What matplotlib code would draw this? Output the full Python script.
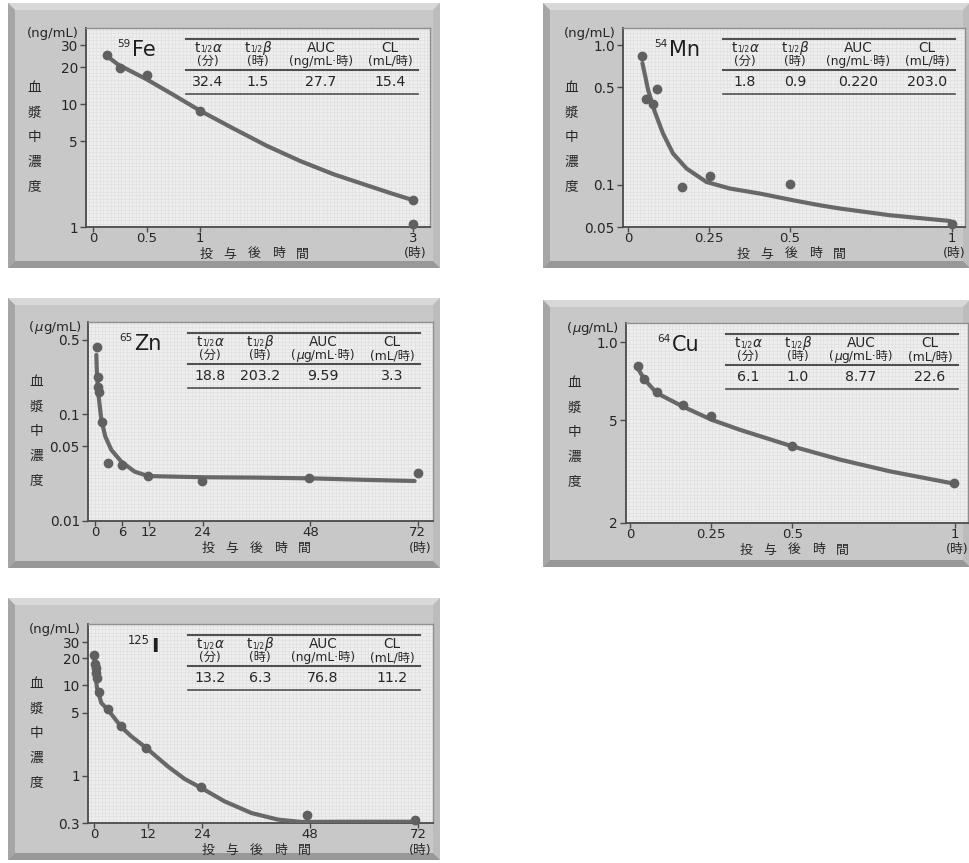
import numpy as np
import matplotlib
matplotlib.use('Agg')
import matplotlib.pyplot as plt
from matplotlib.patches import Rectangle, Polygon
from matplotlib.lines import Line2D
from matplotlib.collections import LineCollection
from matplotlib.ticker import NullLocator

plt.rcParams['font.family'] = ['DejaVu Sans', 'Noto Sans CJK JP']

# ---------------- data ----------------
# 59Fe
fe_time = [0.125, 0.25, 0.5, 1.0, 3.0, 3.0]
fe_conc = [25.2, 19.6, 17.4, 8.8, 1.67, 1.05]
fe_fit_time = [0.125, 0.234, 0.5, 0.75, 1.0, 1.31, 1.625, 1.94, 2.25, 2.56, 2.8, 3.0]
fe_fit_conc = [24.7, 20.9, 15.9, 11.9, 8.84, 6.35, 4.58, 3.44, 2.69, 2.19, 1.87, 1.65]
fe_xticks = [0, 0.5, 1, 3]
fe_xticklabels = ['0', '0.5', '1', '3']
fe_yticks = [1, 5, 10, 20, 30]
fe_yticklabels = ['1', '5', '10', '20', '30']
fe_params = ['32.4', '1.5', '27.7', '15.4']

# 54Mn
mn_time = [0.0445, 0.0547, 0.0773, 0.0907, 0.168, 0.2526, 0.5, 1.0]
mn_conc = [0.833, 0.411, 0.381, 0.486, 0.0959, 0.116, 0.1023, 0.0523]
mn_fit_time = [0.0445, 0.062, 0.0825, 0.108, 0.139, 0.181, 0.2425, 0.3145, 0.407,
               0.51, 0.593, 0.655, 0.809, 0.995]
mn_fit_conc = [0.747, 0.480, 0.335, 0.234, 0.168, 0.131, 0.105, 0.0943, 0.0868,
               0.0777, 0.0715, 0.0678, 0.0607, 0.0552]
mn_xticks = [0, 0.25, 0.5, 1]
mn_xticklabels = ['0', '0.25', '0.5', '1']
mn_yticks = [0.05, 0.1, 0.5, 1.0]
mn_yticklabels = ['0.05', '0.1', '0.5', '1.0']
mn_params = ['1.8', '0.9', '0.220', '203.0']

# 65Zn
zn_time = [0.33, 0.6, 0.62, 0.89, 1.49, 2.83, 5.96, 11.76, 23.9, 47.7, 72.0]
zn_conc = [0.427, 0.223, 0.182, 0.1625, 0.0838, 0.0352, 0.0335, 0.0264, 0.0239, 0.0253, 0.0284]
zn_fit_time = [0.22, 0.37, 0.74, 1.34, 2.23, 3.57, 5.8, 8.78, 11.76, 18.45, 24.4, 36.0,
               48.0, 60.5, 71.3]
zn_fit_conc = [0.361, 0.226, 0.147, 0.0887, 0.0618, 0.0464, 0.036, 0.029, 0.0264, 0.026,
               0.0257, 0.0255, 0.0251, 0.0243, 0.0237]
zn_xticks = [0, 6, 12, 24, 48, 72]
zn_xticklabels = ['0', '6', '12', '24', '48', '72']
zn_yticks = [0.01, 0.05, 0.1, 0.5]
zn_yticklabels = ['0.01', '0.05', '0.1', '0.5']
zn_params = ['18.8', '203.2', '9.59', '3.3']

# 64Cu
cu_time = [0.0236, 0.043, 0.082, 0.162, 0.251, 0.4995, 0.998]
cu_conc = [8.07, 7.24, 6.41, 5.74, 5.17, 3.98, 2.86]
cu_fit_time = [0.0236, 0.043, 0.082, 0.162, 0.251, 0.338, 0.4995, 0.646, 0.800, 0.998]
cu_fit_conc = [7.96, 7.22, 6.37, 5.65, 5.02, 4.59, 3.96, 3.52, 3.17, 2.84]
cu_xticks = [0, 0.25, 0.5, 1]
cu_xticklabels = ['0', '0.25', '0.5', '1']
cu_yticks = [2, 5, 10]
cu_yticklabels = ['2', '5', '1.0']
cu_params = ['6.1', '1.0', '8.77', '22.6']

# 125I
i_time = [0.05, 0.3, 0.52, 0.55, 0.66, 1.04, 3.1, 6.07, 11.63, 23.85, 47.4, 71.3]
i_conc = [21.9, 17.4, 15.6, 13.7, 12.1, 8.47, 5.48, 3.52, 2.03, 0.751, 0.371, 0.327]
i_fit_time = [0.05, 0.3, 0.66, 1.63, 3.1, 6.07, 8.3, 11.63, 16.4, 20.15, 23.85, 29.0,
              34.96, 40.9, 46.1, 55.0, 71.5]
i_fit_conc = [21.4, 13.7, 9.38, 6.40, 5.39, 3.47, 2.73, 2.03, 1.27, 0.921, 0.732, 0.521,
              0.387, 0.327, 0.308, 0.31, 0.31]
i_xticks = [0, 12, 24, 48, 72]
i_xticklabels = ['0', '12', '24', '48', '72']
i_yticks = [0.3, 1, 5, 10, 20, 30]
i_yticklabels = ['0.3', '1', '5', '10', '20', '30']
i_params = ['13.2', '6.3', '76.8', '11.2']

header_top = ['t', 't', 'AUC', 'CL']
header_greek = ['α', 'β', '', '']
ylabel_chars = ['血', '漿', '中', '濃', '度']
xlabel_chars = ['投', '与', '後', '時', '間']
x_unit = '(時)'

# ---------------- figure ----------------
W, H = 970, 863
fig = plt.figure(figsize=(W / 100, H / 100), dpi=100)
fig.patch.set_facecolor('white')
renderer = fig.canvas.get_renderer()

TXT = '#262626'
DARK = '#4a4a4a'
LINEC = '#686868'


def fx(x):
    return x / W


def fy(y):
    return 1 - y / H


def frame(l, t, r, b, bw=7):
    fig.add_artist(Rectangle((fx(l), fy(b)), (r - l) / W, (b - t) / H,
                             transform=fig.transFigure, facecolor='#c8c8c8',
                             edgecolor='none', zorder=-3))

    def poly(pts, c):
        fig.add_artist(Polygon([(fx(x), fy(y)) for x, y in pts], closed=True,
                               transform=fig.transFigure, facecolor=c,
                               edgecolor='none', zorder=-2))
    poly([(l, t), (r, t), (r - bw, t + bw), (l + bw, t + bw)], '#d8d8d8')
    poly([(r, t), (r, b), (r - bw, b - bw), (r - bw, t + bw)], '#bcbcbc')
    poly([(l, t), (l + bw, t + bw), (l + bw, b - bw), (l, b)], '#a6a6a6')
    poly([(l, b), (l + bw, b - bw), (r - bw, b - bw), (r, b)], '#989898')


def rich(x, y, parts, ha='center', size=9):
    arts = []
    total = 0.0
    for s, extra in parts:
        kw = dict(fontsize=size, color=TXT)
        kw.update(extra)
        a = fig.text(0, 0, s, ha='left', va='baseline', **kw)
        w = a.get_window_extent(renderer).width
        arts.append((a, w))
        total += w
    if ha == 'center':
        x0 = x - total / 2
    elif ha == 'right':
        x0 = x - total
    else:
        x0 = x
    for a, w in arts:
        a.set_position((fx(x0), fy(y)))
        x0 += w


ITAL = dict(family='DejaVu Sans', style='italic')


def hline(x1, x2, y, lw=1.2):
    fig.add_artist(Line2D([fx(x1), fx(x2)], [fy(y), fy(y)], color='#505050', lw=lw,
                          transform=fig.transFigure, zorder=5))


def panel(frame_box, ax_box, xlim, ylim, t, c, ft, fc, xt, xl, yt, yl, params,
          iso, el, mu, iso_style):
    frame(*frame_box)
    l, tp, r, b = ax_box
    ax = fig.add_axes([fx(l), fy(b), (r - l) / W, (b - tp) / H])
    ax.set_facecolor('#eeeeee')
    ax.set_yscale('log')
    ax.set_xlim(*xlim)
    ax.set_ylim(*ylim)
    # graph-paper texture
    wpx, hpx = r - l, b - tp
    segs = [[(v / wpx, 0), (v / wpx, 1)] for v in np.arange(3, wpx, 3.6)]
    segs += [[(0, v / hpx), (1, v / hpx)] for v in np.arange(3, hpx, 3.6)]
    ax.add_collection(LineCollection(segs, colors='#dfdfdf', linewidths=0.45,
                                     transform=ax.transAxes, zorder=0.5))
    ax.plot(ft, fc, color=LINEC, lw=3.0, solid_capstyle='round', zorder=3)
    ax.plot(t, c, 'o', ms=6.0, color='#606060', mec='#606060', zorder=4, clip_on=False)
    ax.set_xticks(xt)
    ax.set_xticklabels(xl)
    ax.set_yticks(yt)
    ax.set_yticklabels(yl)
    ax.yaxis.set_minor_locator(NullLocator())
    ax.xaxis.set_minor_locator(NullLocator())
    ax.tick_params(axis='x', direction='out', length=3.6, width=1, color=DARK,
                   labelsize=9.5, labelcolor=TXT, pad=0.3)
    ax.tick_params(axis='y', direction='out', length=4.3, width=1, color=DARK,
                   labelsize=9.8, labelcolor=TXT, pad=1.5)
    for s in ['left', 'bottom']:
        ax.spines[s].set_color(DARK)
        ax.spines[s].set_linewidth(1.3)
    for s in ['top', 'right']:
        ax.spines[s].set_color('#8f8f8f')
        ax.spines[s].set_linewidth(1.0)

    # unit label
    if mu:
        rich(l - 7, tp + 9, [('(', {}), ('μ', ITAL), ('g/mL)', {})], ha='right', size=9.5)
    else:
        rich(l - 7, tp + 9, [('(ng/mL)', {})], ha='right', size=9.5)
    # vertical y label
    for ch, dy in zip(ylabel_chars, [60, 85, 109, 134, 158]):
        fig.text(fx(l - 52), fy(tp + dy), ch, ha='center', va='center', fontsize=9.8,
                 color=TXT)
    # x label
    for ch, dx in zip(xlabel_chars, [120, 144, 168, 192, 216]):
        fig.text(fx(l + dx), fy(b + 27), ch, ha='center', va='center', fontsize=9.3,
                 color=TXT)
    xpix = ax.transData.transform((xt[-1], ylim[0]))[0]
    fig.text(xpix / W + 2 / W, fy(b + 27), x_unit, ha='center', va='center',
             fontsize=9.2, color=TXT)

    # isotope label
    if iso_style == 'big':
        fig.text(fx(l + 40), fy(tp + 20), iso, ha='left', va='baseline', fontsize=8.3,
                 color=TXT)
        fig.text(fx(l + 63), fy(tp + 28), el, ha='left', va='baseline', fontsize=14.5,
                 color='#1e1e1e', weight='bold')
    else:
        fig.text(fx(l + 31), fy(tp + 19), iso, ha='left', va='baseline', fontsize=7.6,
                 color=TXT)
        fig.text(fx(l + 46), fy(tp + 27.5), el, ha='left', va='baseline', fontsize=15,
                 color='#1e1e1e')

    # parameter table
    hline(l + 100, l + 332, tp + 11, lw=1.5)
    hline(l + 100, l + 332, tp + 42, lw=1.5)
    hline(l + 100, l + 332, tp + 66, lw=1.2)
    cols = [l + 122, l + 172, l + 235, l + 304]
    for k, cx in enumerate(cols):
        if header_greek[k]:
            rich(cx, tp + 24, [(header_top[k], {}), ('1/2', dict(fontsize=5.5)),
                               (header_greek[k], ITAL)], size=9.8)
        else:
            rich(cx, tp + 24, [(header_top[k], {})], size=9.8)
    unit_auc = ([('(', {}), ('μ', ITAL), ('g/mL·時)', {})] if mu
                else [('(ng/mL·時)', {})])
    h2 = [[('(分)', {})], [('(時)', {})], unit_auc, [('(mL/時)', {})]]
    for cx, parts in zip(cols, h2):
        rich(cx, tp + 37, parts, size=8.8)
    for cx, v in zip(cols, params):
        rich(cx, tp + 58, [(v, {})], size=10.2)
    return ax


panel((8, 3, 440, 268), (86, 28, 430, 227), (-0.069, 3.156), (1, 41.6),
      fe_time, fe_conc, fe_fit_time, fe_fit_conc, fe_xticks, fe_xticklabels,
      fe_yticks, fe_yticklabels, fe_params, '59', 'Fe', False, 'normal')
panel((543, 3, 970, 268), (623, 28, 965, 227), (-0.0155, 1.041), (0.05, 1.33),
      mn_time, mn_conc, mn_fit_time, mn_fit_conc, mn_xticks, mn_xticklabels,
      mn_yticks, mn_yticklabels, mn_params, '54', 'Mn', False, 'normal')
panel((8, 298, 440, 568), (88, 322, 433, 521), (-1.64, 75.4), (0.01, 0.733),
      zn_time, zn_conc, zn_fit_time, zn_fit_conc, zn_xticks, zn_xticklabels,
      zn_yticks, zn_yticklabels, zn_params, '65', 'Zn', True, 'normal')
panel((543, 300, 970, 567), (626, 323, 968, 523), (-0.0123, 1.041), (2, 11.88),
      cu_time, cu_conc, cu_fit_time, cu_fit_conc, cu_xticks, cu_xticklabels,
      cu_yticks, cu_yticklabels, cu_params, '64', 'Cu', True, 'normal')
panel((8, 598, 440, 860), (88, 624, 433, 823), (-1.33, 75.3), (0.3, 47.9),
      i_time, i_conc, i_fit_time, i_fit_conc, i_xticks, i_xticklabels,
      i_yticks, i_yticklabels, i_params, '125', 'I', False, 'big')

fig.savefig('out.png', dpi=100, facecolor='white')
